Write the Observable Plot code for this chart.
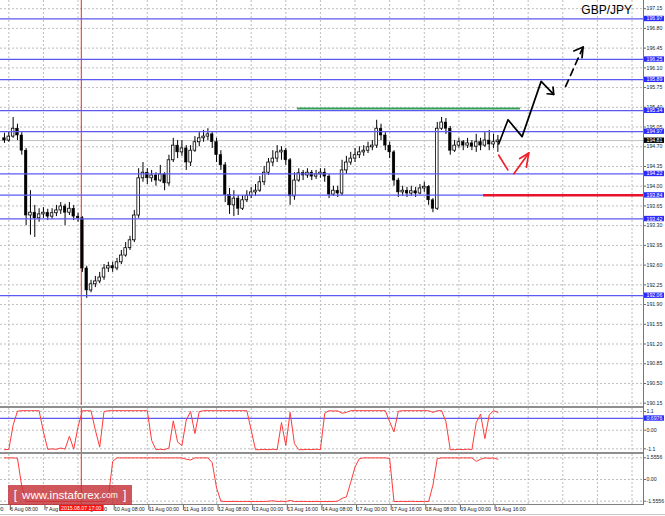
<!DOCTYPE html>
<html><head><meta charset="utf-8">
<script src="https://cdn.jsdelivr.net/npm/d3@7"></script>
<script src="https://cdn.jsdelivr.net/npm/@observablehq/plot@0.6"></script>
<style>
html,body{margin:0;padding:0;background:#fff;}
#chart{position:relative;width:665px;height:516px;overflow:hidden;background:#fff;font-family:"Liberation Sans",Arial,sans-serif;}
.panel{position:absolute;left:0;}
.sep{position:absolute;left:0;width:643px;height:2px;background:#8e8e8e;}
#axisline{position:absolute;left:643px;top:0;width:1px;height:505px;background:#777;}
#bottomline{position:absolute;left:0;top:504px;width:643px;height:1px;background:#808080;}
#winline{position:absolute;left:0;top:514px;width:665px;height:1px;background:#c8c8c8;}
#title{position:absolute;right:33px;top:4px;font-size:12px;line-height:12px;color:#000;}
#logo{position:absolute;left:8px;top:485px;width:124px;height:20px;background:rgba(196,50,56,0.82);color:#fff;display:flex;align-items:center;justify-content:center;white-space:nowrap;}
#logo .br{font-size:12px;font-weight:300;margin:0 5px;}
#logo .www{font-size:11.5px;}
#logo .com{font-size:8.5px;}
</style></head><body>
<div id="chart">
  <div id="main" class="panel" style="top:0"></div>
  <div class="sep" style="top:406px"></div>
  <div id="ind1" class="panel" style="top:408px"></div>
  <div class="sep" style="top:452px"></div>
  <div id="ind2" class="panel" style="top:454px"></div>
  <div id="axisline"></div>
  <div id="bottomline"></div>
  <div id="winline"></div>
  <div id="title">GBP/JPY</div>
  <div id="logo"><span class="br">[</span><span class="www">www.instaforex</span><span class="com">.com</span><span class="br">]</span></div>
</div>
<script>
// ---------- price axis / levels ----------
const priceTicks = [190.15,190.50,190.85,191.20,191.55,191.90,192.25,192.60,192.95,193.30,193.65,194.00,194.35,194.70,195.05,195.40,195.75,196.10,196.45,196.80,197.15];
const levelPrices = [196.97,196.25,195.89,195.34,194.97,194.22,193.84,193.42,192.06];
const lastPrice = [194.81];

// ---------- time axis (bar index, 1 bar = 1 hour of trading) ----------
const tickBars = [-16,0,16,32,48,64,80,96,112,128,144,160,176,192,208,224];
const tickLabels = ["5 Aug 16:00","6 Aug 08:00","7 Aug 00:00","7 Aug 16:00","10 Aug 08:00","11 Aug 00:00","11 Aug 16:00","12 Aug 08:00","13 Aug 00:00","13 Aug 16:00","14 Aug 08:00","17 Aug 00:00","17 Aug 16:00","18 Aug 08:00","19 Aug 00:00","19 Aug 16:00"];
const gridBars = [-16,0,16,32,48,64,80,96,112,128,144,160,176,192,208,224,240,256,272,288];
const crossBar = [33.5];
const crossLabel = ["2015.08.07 17:00"];

// ---------- candles (2-hour bars) ----------
const opens = [
194.85,194.81,194.88,195.02,194.90,194.63,193.48,193.53,193.43,193.50,
193.53,193.46,193.52,193.57,193.64,193.53,193.60,193.46,193.43,192.54,
192.15,192.26,192.31,192.38,192.54,192.58,192.54,192.65,192.77,192.90,
193.04,193.48,194.14,194.24,194.14,194.19,194.10,194.21,194.05,194.46,
194.72,194.60,194.67,194.42,194.63,194.78,194.85,194.88,194.92,194.78,
194.55,194.37,193.84,193.66,193.78,193.60,193.75,193.83,193.89,193.92,
194.07,194.24,194.42,194.49,194.60,194.63,194.46,193.82,194.10,194.23,
194.19,194.24,194.17,194.21,194.24,194.17,193.85,193.92,193.87,194.28,
194.42,194.49,194.55,194.60,194.63,194.69,194.72,195.02,194.90,194.72,
194.60,194.10,193.89,193.92,193.87,193.91,193.87,193.96,193.99,193.75,
193.60,195.02,195.13,195.02,194.63,194.72,194.78,194.72,194.76,194.70,
194.78,194.72,194.81,194.74,194.78];
const highs = [
194.94,194.97,195.22,195.10,194.95,194.67,193.92,193.66,193.60,193.62,
193.59,193.60,193.66,193.71,193.68,193.71,193.66,193.52,193.46,192.58,
192.33,192.40,192.47,192.61,192.65,192.65,192.72,192.86,193.00,193.11,
193.57,194.31,194.42,194.31,194.28,194.24,194.37,194.24,194.55,194.85,
194.81,194.81,194.72,194.72,194.88,194.95,194.99,195.02,194.95,194.85,
194.63,194.42,193.96,193.92,193.83,193.83,193.92,193.98,194.03,194.17,
194.35,194.49,194.63,194.72,194.70,194.67,194.49,194.24,194.31,194.28,
194.31,194.28,194.28,194.31,194.31,194.21,194.00,194.00,194.46,194.53,
194.60,194.67,194.70,194.72,194.78,194.81,195.17,195.10,194.95,194.78,
194.63,194.14,194.00,193.98,194.00,193.98,194.03,194.07,194.01,193.78,
195.13,195.22,195.20,195.06,194.81,194.85,194.81,194.85,194.81,194.92,
194.85,194.95,194.99,194.92,194.90];
const lows = [
194.76,194.78,194.85,194.81,194.55,193.30,193.13,193.09,193.36,193.43,
193.39,193.41,193.46,193.50,193.30,193.48,193.39,193.36,192.47,192.01,
192.11,192.20,192.27,192.33,192.47,192.47,192.50,192.61,192.74,192.86,
193.00,193.43,194.07,194.03,194.07,194.00,194.07,193.92,194.00,194.42,
194.49,194.53,194.28,194.35,194.60,194.70,194.78,194.81,194.67,194.42,
194.28,193.71,193.50,193.46,193.48,193.57,193.71,193.78,193.82,193.89,
194.01,194.19,194.35,194.42,194.46,194.37,193.66,193.75,194.07,194.10,
194.14,194.10,194.12,194.14,194.07,193.78,193.82,193.80,193.83,194.21,
194.37,194.42,194.49,194.53,194.58,194.63,194.67,194.81,194.63,194.49,
194.00,193.80,193.82,193.80,193.82,193.80,193.85,193.89,193.66,193.53,
193.57,194.99,194.92,194.55,194.60,194.67,194.63,194.67,194.63,194.60,
194.63,194.69,194.63,194.67,194.60];
const closes = [
194.81,194.88,195.02,194.90,194.63,193.48,193.53,193.43,193.50,193.53,
193.46,193.52,193.57,193.64,193.53,193.60,193.46,193.43,192.54,192.15,
192.26,192.31,192.38,192.54,192.58,192.54,192.65,192.77,192.90,193.04,
193.48,194.14,194.24,194.14,194.19,194.10,194.21,194.05,194.46,194.72,
194.60,194.67,194.42,194.63,194.78,194.85,194.88,194.92,194.78,194.55,
194.37,193.84,193.66,193.78,193.60,193.75,193.83,193.89,193.92,194.07,
194.24,194.42,194.49,194.60,194.63,194.46,193.82,194.10,194.23,194.19,
194.24,194.17,194.21,194.24,194.17,193.85,193.92,193.87,194.28,194.42,
194.49,194.55,194.60,194.63,194.69,194.72,195.02,194.90,194.72,194.60,
194.10,193.89,193.92,193.87,193.91,193.87,193.96,193.99,193.75,193.60,
195.02,195.13,195.02,194.63,194.72,194.78,194.72,194.76,194.70,194.78,
194.72,194.81,194.74,194.78,194.81];

// ---------- indicator 1 ----------
const ind1Values = [
-1.15,-1.13,0.30,1.12,1.15,1.15,1.15,1.15,1.15,-0.10,
-1.13,-1.10,-1.13,-1.05,-1.12,-0.35,-1.12,0.20,1.15,1.15,
1.14,0.00,-1.00,1.10,1.15,1.15,1.15,1.15,1.15,1.15,
1.15,1.15,1.15,1.15,-0.60,-1.15,-1.12,-1.15,-1.05,0.55,
-0.70,-0.90,0.60,1.10,-0.20,1.10,1.15,1.15,1.15,1.15,
1.15,1.15,1.15,1.15,1.15,1.15,1.15,0.00,-1.15,-1.15,
-1.13,-1.15,-1.12,-1.15,0.45,-0.90,1.05,-0.80,-1.15,-1.15,
-1.13,-1.15,-1.12,-1.15,1.00,1.15,1.13,1.14,1.00,1.05,
1.15,1.15,1.15,1.15,1.15,1.15,1.15,1.15,1.15,0.50,
-0.10,1.12,1.15,1.15,1.15,1.15,1.15,1.15,1.15,1.05,
1.15,1.15,0.50,-1.15,-1.15,-1.13,-1.15,-1.12,-1.15,0.45,
0.95,-0.50,0.90,1.15,1.05];
const ind1Ticks = [1.1, 0, -1.1];
const ind1TickLabels = ["1.1", "0.00", "-1.1"];
const ind1Level = [0.6976];

// ---------- indicator 2 ----------
const ind2Values = [
1.55,1.55,1.55,1.52,-0.50,-1.58,-1.58,-1.58,-1.58,-1.58,
-1.58,-1.58,-1.58,-1.58,-1.58,-1.58,-1.58,-1.58,-1.58,-1.58,
-1.58,-1.58,-1.58,-1.58,-1.30,1.30,1.55,1.55,1.55,1.55,
1.55,1.55,1.55,1.55,1.55,1.55,1.55,1.55,1.55,1.55,
1.55,1.55,1.45,1.40,1.55,1.55,1.55,1.55,1.20,-0.60,
-1.55,-1.58,-1.58,-1.57,-1.58,-1.58,-1.57,-1.58,-1.58,-1.58,
-1.58,-1.56,-1.52,-1.58,-1.56,-1.58,-1.50,-1.58,-1.58,-1.57,
-1.58,-1.58,-1.57,-1.58,-1.58,-1.58,-1.58,-1.55,-1.35,-1.25,
-0.20,0.90,1.50,1.55,1.55,1.55,1.55,1.55,1.55,1.50,
-1.58,-1.58,-1.57,-1.58,-1.56,-1.58,-1.58,-1.57,-1.58,-0.40,
1.50,1.55,1.55,1.55,1.55,1.55,1.55,1.55,1.55,1.30,
1.45,1.55,1.52,1.55,1.45];
const ind2Ticks = [1.5556, 0, -1.5556];
const ind2TickLabels = ["1.5556", "0.00", "-1.5556"];

// ---------- drawn annotations (bar, price) ----------
const greenLine = [{bar1: 133.4, bar2: 236.5, price: 195.38}];
const redLine = [{bar1: 219.4, price: 193.84}];
const blackPath = [
  {seg:"a", bar:226.4, price:194.75},{seg:"a", bar:230.7, price:195.18},{seg:"a", bar:237.2, price:194.88},
  {seg:"a", bar:246.0, price:195.86},{seg:"a", bar:251.8, price:195.63},
  {seg:"h", bar:251.5, price:195.76},{seg:"h", bar:251.8, price:195.63},{seg:"h", bar:248.8, price:195.64},
  {seg:"h2", bar:261.1, price:196.40},{seg:"h2", bar:265.4, price:196.47},{seg:"h2", bar:264.9, price:196.28}
];
const blackDashed = [{bar:257.3, price:195.77},{bar:265.4, price:196.47}];
const redPath = [
  {seg:"a", bar:226.4, price:194.55},{seg:"a", bar:230.6, price:194.29},
  {seg:"b", bar:233.4, price:194.22},{seg:"b", bar:240.3, price:194.59},
  {seg:"h", bar:236.1, price:194.49},{seg:"h", bar:240.3, price:194.59},{seg:"h", bar:239.2, price:194.34}
];

// ---------- tables ----------
const barOf = i => 2 * i - 2;
const candles = closes.map((c, i) => ({bar: barOf(i), open: opens[i], high: highs[i], low: lows[i], close: c}));
const ind1 = ind1Values.map((v, i) => ({bar: barOf(i), v}));
const ind2 = ind2Values.map((v, i) => ({bar: barOf(i), v}));
const labelOf = new Map(tickBars.map((b, i) => [b, tickLabels[i]]));
const ind1Lab = new Map(ind1Ticks.map((t, i) => [t, ind1TickLabels[i]]));
const ind2Lab = new Map(ind2Ticks.map((t, i) => [t, ind2TickLabels[i]]));

// ---------- scale settings ----------
const xDomain = [-3.84, 293.3];
const FONT = "Liberation Sans, Arial, sans-serif";
const FS = 5.2;
const base = {width: 665, marginLeft: 0, marginRight: 22, marginTop: 0,
  style: {background: "transparent", fontFamily: FONT, overflow: "visible"}};
const grid = {stroke: "#bdbdbd", strokeOpacity: 1, strokeDasharray: "2,2"};
const BLUE = "#5a5af2";

const main = Plot.plot({
  ...base, height: 405, marginBottom: 0,
  x: {domain: xDomain, axis: null},
  y: {domain: [190.109, 197.295], axis: null},
  marks: [
    Plot.gridY({ticks: priceTicks, ...grid}),
    Plot.gridX({ticks: gridBars, ...grid}),
    Plot.ruleY(lastPrice, {stroke: "#c4c4c4", strokeWidth: 1}),
    Plot.ruleX(crossBar, {stroke: "#ff2020", strokeWidth: 1}),
    Plot.ruleX(candles, {x: "bar", y1: "low", y2: "high", stroke: "#000", strokeWidth: 1}),
    Plot.rect(candles.filter(d => d.close >= d.open), {x1: d => d.bar - 0.6, x2: d => d.bar + 0.6, y1: "open", y2: "close", fill: "#fff", stroke: "#000", strokeWidth: 0.8}),
    Plot.rect(candles.filter(d => d.close < d.open), {x1: d => d.bar - 0.6, x2: d => d.bar + 0.6, y1: "open", y2: "close", fill: "#000", stroke: "#000", strokeWidth: 0.5}),
    Plot.ruleY(levelPrices, {stroke: BLUE, strokeWidth: 1.2}),
    Plot.ruleY(greenLine, {y: "price", x1: "bar1", x2: "bar2", stroke: "#36a05a", strokeWidth: 2}),
    Plot.ruleY(redLine, {y: "price", x1: "bar1", x2: () => xDomain[1], stroke: "#e8132b", strokeWidth: 2.5}),
    Plot.line(blackPath, {x: "bar", y: "price", z: "seg", stroke: "#000", strokeWidth: 1.7}),
    Plot.line(blackDashed, {x: "bar", y: "price", stroke: "#000", strokeWidth: 1.7, strokeDasharray: "7,5"}),
    Plot.line(redPath, {x: "bar", y: "price", z: "seg", stroke: "#f0202a", strokeWidth: 1.7}),
    Plot.axisY({ticks: priceTicks, anchor: "right", tickSize: 2, tickPadding: 1, fontSize: FS, tickFormat: d => d.toFixed(2), label: null, stroke: "#666", fill: "#222"}),
    Plot.text(levelPrices, {y: d => d, text: d => d.toFixed(2), frameAnchor: "right", textAnchor: "start", dx: 3, fill: "#fffffe", fontSize: FS}),
    Plot.text(lastPrice, {y: d => d, text: d => d.toFixed(2), frameAnchor: "right", textAnchor: "start", dx: 3, fill: "#fffffd", fontSize: FS})
  ]
});

const p1 = Plot.plot({
  ...base, height: 44, marginBottom: 0,
  x: {domain: xDomain, axis: null},
  y: {domain: [-1.316, 1.280], axis: null},
  marks: [
    Plot.gridY({ticks: ind1Ticks, ...grid}),
    Plot.gridX({ticks: gridBars, ...grid}),
    Plot.ruleY(ind1Level, {stroke: BLUE, strokeWidth: 1.2}),
    Plot.ruleX(crossBar, {stroke: "#ff2020", strokeWidth: 1}),
    Plot.line(ind1, {x: "bar", y: "v", stroke: "#ff3a3a", strokeWidth: 1}),
    Plot.axisY({ticks: ind1Ticks, anchor: "right", tickSize: 2, tickPadding: 1, fontSize: FS, tickFormat: d => ind1Lab.get(d), label: null, stroke: "#666", fill: "#222"}),
    Plot.text(ind1Level, {y: d => d, text: d => String(d), frameAnchor: "right", textAnchor: "start", dx: 3, fill: "#fffffe", fontSize: FS})
  ]
});

const p2 = Plot.plot({
  ...base, height: 62, marginBottom: 12,
  x: {domain: xDomain, axis: null},
  y: {domain: [-1.792, 1.792], axis: null},
  marks: [
    Plot.gridY({ticks: ind2Ticks, ...grid}),
    Plot.gridX({ticks: gridBars, ...grid}),
    Plot.ruleX(crossBar, {stroke: "#ff2020", strokeWidth: 1}),
    Plot.line(ind2, {x: "bar", y: "v", stroke: "#ff3a3a", strokeWidth: 1}),
    Plot.axisY({ticks: ind2Ticks, anchor: "right", tickSize: 2, tickPadding: 1, fontSize: FS, tickFormat: d => ind2Lab.get(d), label: null, stroke: "#666", fill: "#222"}),
    Plot.axisX({ticks: tickBars, anchor: "bottom", tickSize: 6, tickPadding: -3.5, textAnchor: "start", dx: 1.5, fontSize: FS, tickFormat: d => labelOf.get(d), label: null, stroke: "#666", fill: "#222"}),
    Plot.text(crossBar, {x: d => d, text: (d, i) => crossLabel[i], frameAnchor: "bottom", dy: 5.5, fill: "#fffffc", fontSize: FS})
  ]
});

document.getElementById("main").append(main);
document.getElementById("ind1").append(p1);
document.getElementById("ind2").append(p2);

function addBoxes(svg, marker, fill, padL, padR, padY) {
  svg.querySelectorAll(`g[fill="${marker}"] text`).forEach(t => {
    const b = t.getBBox();
    const r = document.createElementNS("http://www.w3.org/2000/svg", "rect");
    r.setAttribute("x", b.x - padL);
    r.setAttribute("y", b.y - padY);
    r.setAttribute("width", b.width + padL + padR);
    r.setAttribute("height", b.height + 2 * padY);
    r.setAttribute("fill", fill);
    const tr = t.getAttribute("transform");
    if (tr) r.setAttribute("transform", tr);
    t.parentNode.insertBefore(r, t);
    t.setAttribute("fill", "#fff");
  });
}
addBoxes(main, "#fffffe", "#2b2bff", 2.5, 1.5, -0.3);
addBoxes(main, "#fffffd", "#000", 2.5, 1.5, -0.3);
addBoxes(p1, "#fffffe", "#2b2bff", 2.5, 1.5, -0.3);
addBoxes(p2, "#fffffc", "#ff1010", 2, 2, 0);
</script>
</body></html>
